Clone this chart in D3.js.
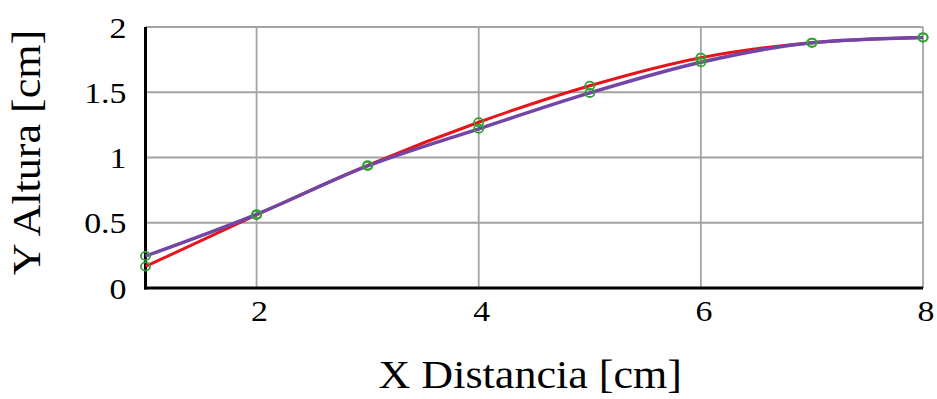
<!DOCTYPE html>
<html>
<head>
<meta charset="utf-8">
<script src="https://cdn.jsdelivr.net/npm/d3@7/dist/d3.min.js"></script>
<style>
  html, body { margin: 0; padding: 0; background: #fff; }
  svg { display: block; }
  text { font-family: "Liberation Serif", "Times New Roman", serif; fill: #000; }
</style>
</head>
<body>
<svg id="chart" width="937" height="399"></svg>
<script>
// Distance along the profile (cm)
const xValues = [1, 2, 3, 4, 5, 6, 7, 8];
// Height measured on two runs (cm)
const seriesRed = [0.165, 0.56, 0.94, 1.27, 1.55, 1.765, 1.88, 1.92];
const seriesPurple = [0.245, 0.565, 0.935, 1.22, 1.495, 1.73, 1.88, 1.92];
const xTicks = [2, 4, 6, 8];
const yTicks = [0, 0.5, 1, 1.5, 2];
const xLabel = "X Distancia [cm]";
const yLabel = "Y Altura [cm]";

const margin = { left: 145.5, right: 14, top: 27, bottom: 111 };
const W = 937, H = 399;
const widen = 1.13; // horizontal stretch applied to all glyphs
const svg = d3.select("#chart");

const x = d3.scaleLinear().domain([1, 8]).range([margin.left, W - margin.right]);
const y = d3.scaleLinear().domain([0, 2]).range([H - margin.bottom, margin.top]);

// Grid
const grid = svg.append("g");
grid.selectAll("line.v").data([2, 4, 6, 8]).join("line")
  .attr("x1", d => x(d)).attr("x2", d => x(d))
  .attr("y1", y(0)).attr("y2", y(2))
  .attr("stroke", "#a3a3a3").attr("stroke-width", 1.8);
grid.selectAll("line.h").data([0.5, 1, 1.5, 2]).join("line")
  .attr("x1", x(1)).attr("x2", x(8))
  .attr("y1", d => y(d)).attr("y2", d => y(d))
  .attr("stroke", "#a3a3a3").attr("stroke-width", 1.8);

// Axes: tick labels from the axis generators, widened in place
const xAxis = d3.axisBottom(x).tickValues(xTicks).tickSize(0).tickPadding(0)
  .tickFormat(d3.format("d"));
const gx = svg.append("g").attr("transform", `translate(0,${y(0)})`).call(xAxis);
gx.select(".domain").remove();
gx.selectAll("text")
  .attr("x", null).attr("y", null).attr("dy", null)
  .attr("font-size", 30)
  .attr("transform", `translate(2.5,33) scale(${widen},1)`)
  .style("font-family", '"Liberation Serif", serif');

const yAxis = d3.axisLeft(y).tickValues(yTicks).tickSize(0).tickPadding(0)
  .tickFormat(d => String(d));
const gy = svg.append("g").attr("transform", `translate(${x(1)},0)`).call(yAxis);
gy.select(".domain").remove();
gy.selectAll("text")
  .attr("x", null).attr("dy", "0.34em")
  .attr("font-size", 30)
  .attr("transform", `translate(-19,0) scale(${widen},1)`)
  .style("font-family", '"Liberation Serif", serif');

svg.append("line")
  .attr("x1", x(1)).attr("x2", x(1)).attr("y1", y(2)).attr("y2", y(0) + 1.5)
  .attr("stroke", "#000").attr("stroke-width", 3);
svg.append("line")
  .attr("x1", x(1) - 1.5).attr("x2", x(8)).attr("y1", y(0)).attr("y2", y(0))
  .attr("stroke", "#000").attr("stroke-width", 3);

// Series
const line = d3.line().curve(d3.curveMonotoneX);
const ptsRed = xValues.map((d, i) => [x(d), y(seriesRed[i])]);
const ptsPurple = xValues.map((d, i) => [x(d), y(seriesPurple[i])]);

svg.append("path").attr("d", line(ptsRed))
  .attr("fill", "none").attr("stroke", "#e8141c").attr("stroke-width", 3);
svg.append("path").attr("d", line(ptsPurple))
  .attr("fill", "none").attr("stroke", "#7245a6").attr("stroke-width", 3.5);

const markers = svg.append("g");
[ptsRed, ptsPurple].forEach(pts => {
  markers.append("g").selectAll("ellipse").data(pts).join("ellipse")
    .attr("cx", d => d[0]).attr("cy", d => d[1]).attr("rx", 4.6).attr("ry", 4.1)
    .attr("fill", "none").attr("stroke", "#2ea32e").attr("stroke-width", 1.8);
});

// Axis titles
svg.append("text")
  .attr("transform", `translate(${(x(1) + x(8)) / 2 - 4},388) scale(${widen},1)`)
  .attr("text-anchor", "middle").attr("font-size", 39)
  .text(xLabel);
svg.append("text")
  .attr("transform", `translate(40,152.5) rotate(-90) scale(${widen},1)`)
  .attr("text-anchor", "middle").attr("font-size", 39)
  .text(yLabel);
</script>
</body>
</html>
